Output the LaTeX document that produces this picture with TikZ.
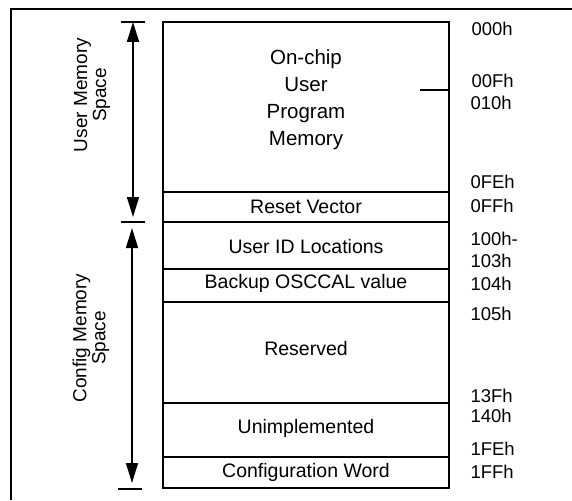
\documentclass[tikz,border=0pt]{standalone}
\usepackage{fontspec}
\setmainfont{Liberation Sans}
\usetikzlibrary{arrows.meta}
\tikzset{
	lbl/.style={anchor=base,font=\fontsize{19.5}{22}\selectfont},
	addr/.style={anchor=base west,font=\fontsize{18.5}{22}\selectfont},
	side/.style={rotate=90,align=center,font=\fontsize{19}{19}\selectfont},
	span/.style={line width=1.6pt,{Triangle[length=20pt,width=12pt]}-{Triangle[length=20pt,width=12pt]}},
	spantick/.style={line width=1.6pt},
	wall/.style={line width=1.8pt}
}
\begin{document}
\begin{tikzpicture}[x=1pt,y=-1pt]
	\useasboundingbox (0,0) rectangle (572,500);
	% frame
	\draw[wall] (11,500) -- (11,9) -- (572,9);
	% memory map
	\draw[wall] (163,22) rectangle (449,488);
	\foreach \y in {192,222,269,302,403,457}
		\draw[wall] (163,\y) -- (449,\y);
	\draw[wall] (420,90) -- (449,90);
	\node[align=center,font=\fontsize{20.5}{27}\selectfont] (prog) at (306,100) {On-chip\\User\\Program\\Memory};
	\node[lbl] (reset) at (306,213) {Reset Vector};
	\node[lbl] (userid) at (306,253) {User ID Locations};
	\node[lbl] (osccal) at (306,288) {Backup OSCCAL value};
	\node[lbl] (resv) at (306,355) {Reserved};
	\node[lbl] (unimp) at (306,433) {Unimplemented};
	\node[lbl] (cfgword) at (306,477) {Configuration Word};
	% addresses
	\node[addr] (a000) at (468,36) {000h};
	\node[addr] (a00f) at (468,88) {00Fh};
	\node[addr] (a010) at (467,110) {010h};
	\node[addr] (a0fe) at (467,188) {0FEh};
	\node[addr] (a0ff) at (467,212) {0FFh};
	\node[addr] (a100) at (467,245) {100h-};
	\node[addr] (a103) at (467,267) {103h};
	\node[addr] (a104) at (467,290) {104h};
	\node[addr] (a105) at (467,320) {105h};
	\node[addr] (a13f) at (467,402) {13Fh};
	\node[addr] (a140) at (467,422) {140h};
	\node[addr] (a1fe) at (467,455) {1FEh};
	\node[addr] (a1ff) at (467,478) {1FFh};
	% spaces
	\coordinate (usrtop) at (133,22);
	\coordinate (usrbot) at (133,217);
	\coordinate (cfgtop) at (132,228);
	\coordinate (cfgbot) at (132,483);
	\draw[span] (usrtop) -- (usrbot);
	\draw[span] (cfgtop) -- (cfgbot);
	\draw[spantick] (121,22) -- (145,22);
	\draw[spantick] (121,222) -- (145,222);
	\draw[spantick] (118,489) -- (142,489);
	\node[side] (usrspace) at (92,95) {User Memory\\Space};
	\node[side] (cfgspace) at (91,338) {Config Memory\\Space};
\end{tikzpicture}
\end{document}
